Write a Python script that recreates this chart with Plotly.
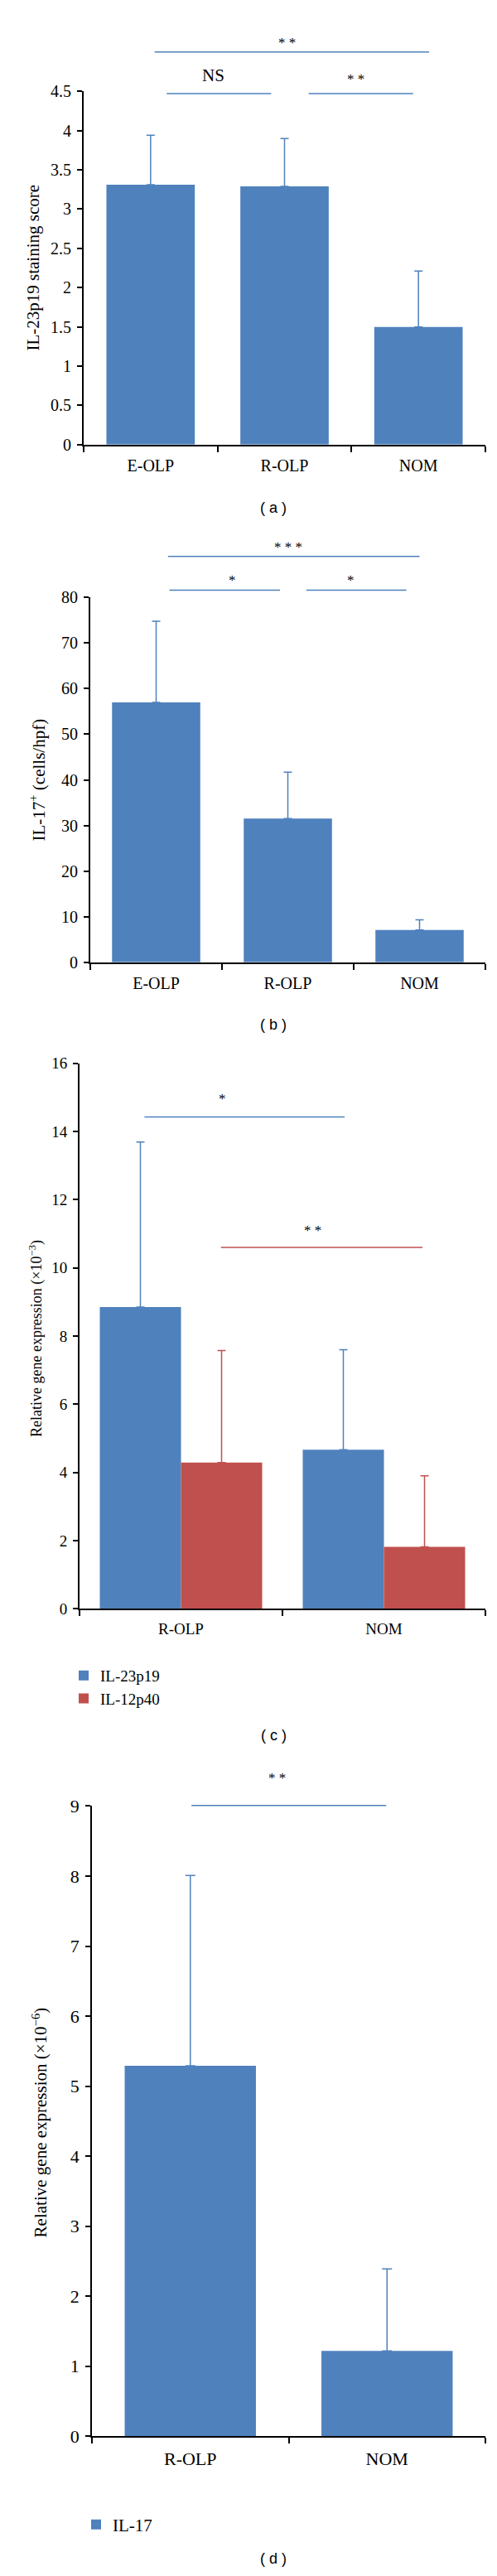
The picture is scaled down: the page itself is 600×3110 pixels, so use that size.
import plotly.graph_objects as go

# ---------------- data ----------------
cats_abc = ["E-OLP", "R-OLP", "NOM"]
il23_score = [3.31, 3.29, 1.50]
il23_score_err = [0.63, 0.61, 0.71]

il17_cells = [57.0, 31.5, 7.1]
il17_cells_err = [17.8, 10.2, 2.2]

cats_cd = ["R-OLP", "NOM"]
il23p19_expr = [8.85, 4.67]
il23p19_err = [4.84, 2.93]
il12p40_expr = [4.29, 1.82]
il12p40_err = [3.29, 2.08]

il17_expr = [5.29, 1.22]
il17_expr_err = [2.72, 1.17]

ticks_a = [0, 0.5, 1, 1.5, 2, 2.5, 3, 3.5, 4, 4.5]
ticktext_a = ["0", "0.5", "1", "1.5", "2", "2.5", "3", "3.5", "4", "4.5"]
ticks_b = [0, 10, 20, 30, 40, 50, 60, 70, 80]
ticks_c = [0, 2, 4, 6, 8, 10, 12, 14, 16]
ticks_d = [0, 1, 2, 3, 4, 5, 6, 7, 8, 9]

# significance brackets: (from category, to category, level, label, label category, label level)
sig_a = [(0.03, 2.08, 5.0, "* *", 1.02, 5.12),
         (0.12, 0.90, 4.47, "NS", 0.47, 4.70),
         (1.18, 1.96, 4.47, "* *", 1.53, 4.66)]
sig_b = [(0.09, 2.00, 89.0, "* * *", 1.00, 91.0),
         (0.10, 0.94, 81.6, "*", 0.58, 83.8),
         (1.14, 1.90, 81.6, "*", 1.48, 83.8)]
sig_c = [(-0.18, 0.806, 14.43, "*", 0.205, 14.95, "blue"),
         (0.197, 1.19, 10.6, "* *", 0.647, 11.1, "red")]
sig_d = [(0.006, 0.996, 9.01, "* *", 0.44, 9.40)]

# ---------------- style ----------------
BLUE = "#4F81BD"
RED = "#C0504D"
SERIF = "Liberation Serif"
SANS = "Liberation Sans"
W, H = 600, 3110


def px_x(p):
    return p / W


def px_y(p):
    return 1 - p / H


fig = go.Figure()

# panel a
fig.add_trace(go.Bar(x=cats_abc, y=il23_score, width=0.66, marker_color=BLUE,
                     marker_line_width=0, showlegend=False,
                     error_y=dict(type="data", array=il23_score_err, arrayminus=[0] * 3,
                                  symmetric=False, color=BLUE, thickness=1.5, width=5),
                     xaxis="x", yaxis="y"))
# panel b
fig.add_trace(go.Bar(x=cats_abc, y=il17_cells, width=0.67, marker_color=BLUE,
                     marker_line_width=0, showlegend=False,
                     error_y=dict(type="data", array=il17_cells_err, arrayminus=[0] * 3,
                                  symmetric=False, color=BLUE, thickness=1.5, width=5),
                     xaxis="x2", yaxis="y2"))
# panel c
fig.add_trace(go.Bar(x=cats_cd, y=il23p19_expr, name="IL-23p19", offset=-0.4, width=0.4,
                     marker_color=BLUE, marker_line_width=0, legend="legend",
                     error_y=dict(type="data", array=il23p19_err, arrayminus=[0] * 2,
                                  symmetric=False, color=BLUE, thickness=1.5, width=5),
                     xaxis="x3", yaxis="y3"))
fig.add_trace(go.Bar(x=cats_cd, y=il12p40_expr, name="IL-12p40", offset=0.0, width=0.4,
                     marker_color=RED, marker_line_width=0, legend="legend",
                     error_y=dict(type="data", array=il12p40_err, arrayminus=[0] * 2,
                                  symmetric=False, color=RED, thickness=1.5, width=5),
                     xaxis="x3", yaxis="y3"))
# panel d
fig.add_trace(go.Bar(x=cats_cd, y=il17_expr, name="IL-17", width=0.667,
                     marker_color=BLUE, marker_line_width=0, legend="legend2",
                     error_y=dict(type="data", array=il17_expr_err, arrayminus=[0] * 2,
                                  symmetric=False, color=BLUE, thickness=1.5, width=6),
                     xaxis="x4", yaxis="y4"))

panels = [
    # xaxis, yaxis, left px, right px, bottom px, top px, ymax, ticks, ticktext, font size
    ("x", "y", 93, 578, 521, 91, 4.5, ticks_a, ticktext_a, 20),
    ("x2", "y2", 101, 578, 1151, 707, 80, ticks_b, [str(t) for t in ticks_b], 20),
    ("x3", "y3", 88, 578, 1938, 1274, 16, ticks_c, [str(t) for t in ticks_c], 19),
    ("x4", "y4", 103, 578, 2945, 2178, 9, ticks_d, [str(t) for t in ticks_d], 22),
]

layout = dict(width=W, height=H, margin=dict(l=0, r=0, t=0, b=0),
              paper_bgcolor="white", plot_bgcolor="white", showlegend=True,
              font=dict(family=SERIF, color="black"))

for xa, ya, l, r, b, t, ymax, tv, tt, fs in panels:
    xkey = "xaxis" + xa[1:]
    ykey = "yaxis" + ya[1:]
    layout[xkey] = dict(domain=[px_x(l), px_x(r)], anchor=ya, type="category",
                        tickson="boundaries", ticks="outside", ticklen=7, tickwidth=1.5,
                        tickcolor="black", showline=True, linecolor="black", linewidth=1.8,
                        showgrid=False, zeroline=False, ticklabelstandoff=6,
                        tickfont=dict(family=SERIF, size=fs, color="black"),
                        fixedrange=True)
    layout[ykey] = dict(domain=[px_y(b), px_y(t)], anchor=xa, range=[0, ymax],
                        tickmode="array", tickvals=tv, ticktext=tt,
                        ticks="outside", ticklen=6, tickwidth=1.5, tickcolor="black",
                        showline=True, linecolor="black", linewidth=1.8,
                        showgrid=False, zeroline=False, ticklabelstandoff=3,
                        tickfont=dict(family=SERIF, size=fs, color="black"),
                        fixedrange=True)

shapes = []
annotations = []


def add_sig(xa, ya, n, ymax, c0, c1, v, label, lc, lv, color, fs=17):
    xd = xa + " domain"
    yd = ya + " domain"
    shapes.append(dict(type="line", xref=xd, yref=yd,
                       x0=(c0 + 0.5) / n, x1=(c1 + 0.5) / n,
                       y0=v / ymax, y1=v / ymax,
                       line=dict(color=color, width=1.5)))
    annotations.append(dict(text=label, xref=xd, yref=yd, x=(lc + 0.5) / n, y=lv / ymax,
                            showarrow=False, xanchor="center", yanchor="middle",
                            font=dict(family=SERIF, size=fs, color="black")))


for c0, c1, v, lab, lc, lv in sig_a:
    add_sig("x", "y", 3, 4.5, c0, c1, v, lab, lc, lv, BLUE, 21 if lab == "NS" else 17)
for c0, c1, v, lab, lc, lv in sig_b:
    add_sig("x2", "y2", 3, 80, c0, c1, v, lab, lc, lv, BLUE)
for c0, c1, v, lab, lc, lv, col in sig_c:
    add_sig("x3", "y3", 2, 16, c0, c1, v, lab, lc, lv, BLUE if col == "blue" else RED)
for c0, c1, v, lab, lc, lv in sig_d:
    add_sig("x4", "y4", 2, 9, c0, c1, v, lab, lc, lv, BLUE)

# y-axis titles
ytitles = [
    ("IL-23p19 staining score", 32, 306, 21),
    ("IL-17<sup>+</sup> (cells/hpf)", 38, 929, 21),
    ("Relative gene expression (×10<sup>−3</sup>)", 36, 1609, 18),
    ("Relative gene expression (×10<sup>−6</sup>)", 40, 2563, 21),
]
for txt, xp, yp, fs in ytitles:
    annotations.append(dict(text=txt, xref="paper", yref="paper", x=px_x(xp), y=px_y(yp),
                            textangle=-90, showarrow=False, xanchor="center",
                            yanchor="middle",
                            font=dict(family=SERIF, size=fs, color="black")))

# panel labels
for txt, yp in [("( a )", 598), ("( b )", 1227), ("( c )", 2092), ("( d )", 3094)]:
    annotations.append(dict(text=txt, xref="paper", yref="paper", x=px_x(322), y=px_y(yp),
                            showarrow=False, xanchor="center", yanchor="middle",
                            font=dict(family=SANS, size=18, color="black")))

layout["shapes"] = shapes
layout["annotations"] = annotations
layout["legend"] = dict(x=px_x(73), y=px_y(2000), xanchor="left", yanchor="top",
                        bgcolor="rgba(0,0,0,0)", borderwidth=0,
                        font=dict(family=SERIF, size=19, color="black"),
                        tracegroupgap=0, itemclick=False, itemdoubleclick=False)
layout["legend2"] = dict(x=px_x(88), y=px_y(3032), xanchor="left", yanchor="top",
                         bgcolor="rgba(0,0,0,0)", borderwidth=0,
                         font=dict(family=SERIF, size=21, color="black"),
                         itemclick=False, itemdoubleclick=False)

fig.update_layout(**layout)
fig.write_html("out.html")
